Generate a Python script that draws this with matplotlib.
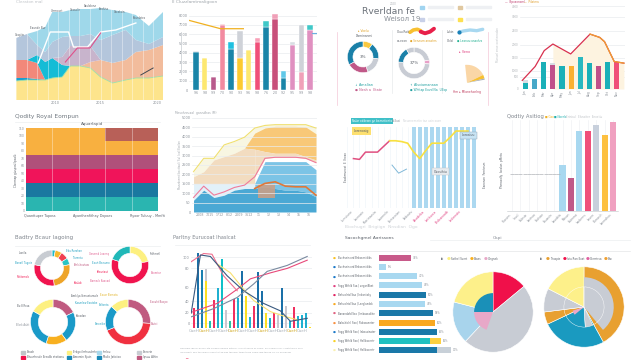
import matplotlib
matplotlib.use('Agg')
import matplotlib.pyplot as plt
from matplotlib.patches import Rectangle

plt.rcParams['font.family'] = ['DejaVu Sans']
plt.rcParams['axes.linewidth'] = 0.4

W, H = 642, 360
TXT = '#8a9098'
DARK = '#5a6068'
GRID = '#e9ecef'

# ---------------- data ----------------
# panel 1 - stacked areas
p1_x = [0, 3.1, 6, 8.3, 10.3, 13.1, 15.4, 18.3, 21.1, 24, 27.4, 31.1, 34, 37.7, 41.7]
p1_yellow = [19, 20, 20, 20, 22, 23, 34, 34, 32, 23, 17, 20, 22, 22, 24]
p1_cyan_lo = [3, 2, 1, 0, 0, 0, 0, 0, 0, 0, 0, 0, 0, 0, 0]
p1_coral = [18, 18, 16, 0, 0, 0, 0, 0, 0, 0, 0, 0, 0, 0, 0]
p1_peach = [0, 0, 0, 0, 0, 0, 0, 0, 6, 17, 20, 20, 26, 28, 31]
p1_cyan = [0, 0, 8, 18, 20, 12, 0, 0, 0, 0, 0, 0, 0, 0, 0]
p1_mauve = [0, 0, 0, 0, 0, 8, 20, 20, 16, 0, 0, 0, 0, 0, 0]
p1_steel = [22, 26, 10, 10, 16, 20, 10, 10, 12, 20, 28, 30, 12, 6, 8]
p1_light = [0, 0, 14, 25, 30, 25, 26, 27, 25, 32, 25, 18, 25, 18, 25]
p1_white_x = [6.3, 9.7, 14.9, 16.3, 20.3, 24, 28.3, 34]
p1_white_y = [37, 68, 68, 53, 53, 68, 70, 77]
p1_pink_x = [14, 17.4, 21, 24]
p1_pink_y = [38, 52, 52, 67]
p1_dark_x = [35.4, 38.9]
p1_dark_y = [25, 32]
p1_ticks = ['2010', '2015', '2020']
p1_peaks = ['Coaptin', 'Eaunde Bur', 'Ummosst', 'Caaaslin', 'Saulolone', 'Eoohiss', 'Caraksin', 'Rounlates']

# panel 2 - stacked bars with a line
p2_labels = ['96', '98', '99', '70', '90', '93', '96', '98', '76', '20', '92', '95', '99', '98']
p2_base = [4100, 3500, 1450, 7000, 4450, 3400, 4300, 5200, 6800, 7700, 1300, 4900, 1900, 6500]
p2_cap = [150, 0, 0, 150, 750, 3000, 0, 400, 600, 500, 700, 300, 5050, 500]
p2_line_x = [-0.8, 2.8, 5.4]
p2_line_y = [7500, 6600, 6600]

# panel 3 - donuts
p3_donut1 = [0.10, 0.17, 0.18, 0.22, 0.33]
p3_donut2 = [0.22, 0.04, 0.50, 0.16, 0.08]
p3_fan = [70, 12, 4]

# panel 4 - bars and line
p4_vals = [7, 12, 31.5, 28, 27, 26, 36.5, 30, 27, 31.5, 31]
p4_caps = [3, 0, 0, 2, 0, 0, 0, 0, 0, 0, 0]
p4_line_x = [-0.35, 1.06, 2.05, 3.0, 4.95, 7.07, 8.13, 8.66, 9.72, 10.78]
p4_line_y = [9.9, 25.9, 44.1, 51.7, 40.3, 63.1, 59.3, 54.4, 31.6, 29.7]
p4_labels = ['Jan', 'Feb', 'Mar', 'Apr', 'May', 'Jun', 'Jul', 'Aug', 'Sep', 'Oct', 'Nov']

# panel 5 - bands
p5_teal = [1, 1, 1, 1, 1]
p5_blue = [1, 1, 1, 1, 1]
p5_red = [1, 1, 1, 1, 1]
p5_mauve = [1, 1, 1, 1, 1]
p5_orange = [1.93, 1.93, 1.93, 1.02, 1.02]
p5_brown = [0, 0, 0, 0.91, 0.91]

# panel 6 - layered areas
p6_x = list(range(13))
p6_blue = [12.5, 23.2, 15.4, 17.9, 23.2, 25, 25, 26.8, 25, 23.2, 23.2, 21.4, 16.1]
p6_pale = [30.4, 30.4, 30.4, 30.4, 30.4, 30.4, 30.4]
p6_mid = [30.4, 53.6, 53.6, 53.6, 53.6, 53.6, 45]
p6_pink = [15.4, 27.5, 17.9, 21.4, 26.1, 28.6, 37.5, 57.1, 58.2, 58.2, 58.2, 57.1, 52.5]
p6_tan = [37.5, 42.9, 55.4, 58.9, 62.5, 67.9, 66.8, 64.3, 62.5, 62.5, 62.5, 58.9, 55.4]
p6_orange = [67.9, 83.9, 89.3, 91.1, 91.1, 91.1, 90.4, 83.2]
p6_yellow = [42.9, 57.1, 57.1, 71.4, 75, 79.6, 89.3, 92.1, 92.9, 92.9, 92.9, 92.9, 89.3]
p6_dark = [25, 30.4, 32.1, 27.5, 26.8, 26.8, 17.9]
p6_labels = ['2008', '7015', '1712', "8'12", '2009', '3612', '11', '12', '13', '14', '15', '16']

# panel 7 - line over stripes
p7_line = [61, 60, 69, 69, 69, 76, 83, 83, 82, 80, 69, 61, 71, 80, 80, 80, 87, 95, 95, 95]
p7_stripes = list(range(10, 21))
p7_blue_x = [6.4, 7.5, 8.8]
p7_blue_y = [53, 43, 48]
p7_labels = ['Lumsiuno', 'Lacnosin', 'Kasrtnaosia', 'Laomnilo', 'Eoniasnian',
             'Fadoaiiu', 'Arsabrloa', 'Lairbsoca', 'Bedcanoatb', 'Ledonrato']

# panel 8 - bars
p8_vals = [0, 0, 0, 0, 0, 0, 50.5, 36, 88, 88, 94.5, 83, 97.5]
p8_marks = [41] * 12
p8_labels = ['Ruosinn', 'Ilbusl', 'Ealnsio', 'Laoinsa', 'Eadsion', 'Eauaxin', 'Lauabtis',
             'Maoun', 'Eaiimmo', 'Iavdonns', 'Ilaunn', 'Bumosln', 'Lanmzhus']

# panel 9 - four donuts
p9_d1 = [0.03, 0.06, 0.07, 0.06, 0.26, 0.30, 0.22]
p9_d2 = [0.22, 0.58, 0.20]
p9_d3 = [0.18, 0.22, 0.15, 0.28, 0.17]
p9_d4 = [0.26, 0.43, 0.18, 0.13]
p9_legend = ['Eliaoh', 'Erbgo ilmhusdmle', 'Innlou', 'Eneorie',
             'Bivunheule Erealib etationu', 'Amomin Sjuin', 'Malio Jatiotoo', 'Ipsuu Alitin']

# panel 10 - bars with lines
p10_vals = [27, 100, 78, 79, 9, 38, 54, 92, 24, 9, 39, 40, 77, 43, 15, 30, 75, 49, 20, 13,
            20, 17, 54, 29, 10, 28, 16, 17, 20, 2]
p10_inner = {3: 63}
p10_pink_x = [-0.8, 5.7, 10.7, 14, 19, 23.2, 28.2]
p10_pink_y = [21, 33, 52, 66, 74, 80, 91]
p10_pink2_x = [-0.8, 2.3, 4.4, 7.3, 10.7]
p10_pink2_y = [89, 100, 99, 70, 50]
p10_yellow_x = [6, 9, 12.3, 14.8, 19, 22.3, 25.7]
p10_yellow_y = [85, 74, 52, 37, 22, 16, 11]
p10_navy_x = [-0.8, 1.5, 4, 8.2, 12.3, 17.3, 21.5, 24, 28.2]
p10_navy_y = [20, 98, 96, 70, 50, 33, 23, 9, 13]
p10_grey_x = [-0.8, 4.8, 10.7, 14.8, 18.2, 23.2, 28.2]
p10_grey_y = [15, 26, 41, 59, 76, 84, 96]

# panel 11 - horizontal bars
p11_vals = [32, 7, 38, 43, 47, 46, 54, 56, 58, 51, 58]
p11_extra = [0, 0, 0, 0, 0, 0, 0, 0, 0, 11, 14]
p11_pct = ['34%', '8%', '41%', '46%', '50%', '49%', '58%', '60%', '62%', '66%', '70%']
p11_names = ['Buchsein ord Brbaeenidiks', 'Buchsein ord Brbaeenidiks', 'Buchsein ord Brbaeenidiks',
             'Fogg Wthld Ssa | ueganBket', 'Behuolrtsl Sao | Inbantaky', 'Behuolrtsl Sao | Leeglandsk',
             'Banandafd Sao | Imbaseabhe', 'Balschiolsl Sao | Pabasaneter', 'Fogg Wthld Sao | Inbassinater',
             'Fogg Wthld Sao | Hellbaonstr', 'Fogg Wthld Sao | Hellbaonstr']

# panel 12 - pies
p12_pie1 = [0.14, 0.48, 0.17, 0.21]
p12_pie1_inner = [0.555, 0.195, 0.25]
p12_pie2 = [0.42, 0.26, 0.05, 0.095, 0.175]
p12_pie2_inner = [0.39, 0.61]

# ---------------- figure ----------------
fig = plt.figure(figsize=(6.42, 3.6), dpi=100)
fig.patch.set_facecolor('white')


def box(x0, y0, x1, y1):
    return fig.add_axes([x0 / W, 1 - y1 / H, (x1 - x0) / W, (y1 - y0) / H])


def t(x, y, s, size=2.6, color=TXT, **kw):
    kw.setdefault('va', 'center')
    fig.text(x / W, 1 - y / H, s, fontsize=size, color=color, **kw)


def clean(ax):
    for s in ax.spines.values():
        s.set_visible(False)
    ax.tick_params(length=0, labelsize=2.5, labelcolor=TXT, pad=1)


def donut(cx, cy, r, vals, cols, width=0.35):
    ax = box(cx - r, cy - r, cx + r, cy + r)
    ax.pie(vals, colors=cols, startangle=90, counterclock=False,
           wedgeprops=dict(width=width, edgecolor='white', linewidth=0.4))
    ax.set_xlim(-1.02, 1.02)
    ax.set_ylim(-1.02, 1.02)
    return ax


# ---- panel 1
ax1 = box(16, 8, 163, 100)
ax1.stackplot(p1_x, p1_yellow, p1_cyan_lo, p1_coral, p1_peach, p1_cyan, p1_mauve, p1_steel, p1_light,
              colors=['#fde48c', '#1a9ed0', '#f2887a', '#f2bc9c', '#14bcd6', '#c8b4cc', '#b4c6dc', '#9fd8ea'],
              lw=0)
ax1.plot(p1_x, p1_yellow, color='#9ee0a8', lw=0.6)
for xv in range(0, 42, 3):
    ax1.axvline(xv, color='white', lw=0.5, alpha=0.55)
ax1.plot(p1_white_x, p1_white_y, color='white', lw=1.0)
ax1.plot(p1_pink_x, p1_pink_y, color='#e0508a', lw=0.8)
ax1.plot(p1_dark_x, p1_dark_y, color='#404850', lw=0.7)
ax1.set_xlim(0, 41.7)
ax1.set_ylim(0, 92)
clean(ax1)
ax1.set_yticks([])
ax1.set_xticks([11, 24, 40])
ax1.set_xticklabels(p1_ticks)
for (px, py), s in zip([(20, 35), (38, 28), (57, 11), (75, 10), (90, 6), (104, 9), (120, 12), (139, 18)], p1_peaks):
    t(px, py, s, size=1.9, color=DARK, ha='center')
t(16, 2, 'Cleraton mal', size=3, color='#c0c4c8')

# ---- panel 2
ax2 = box(189, 12, 317, 90)
x2 = range(len(p2_base))
c2b = ['#1a85a8', '#fde870', '#b85a8c', '#f28aa0', '#1a85a8', '#fdca30', '#fde870', '#f0507a',
       '#1a85a8', '#c8507a', '#1a85a8', '#e090c0', '#f0a0b8', '#e090c0']
c2c = ['#d8dde3', '#fde870', '#b85a8c', '#f8c8d0', '#20c0e0', '#cfd2d8', '#fde870', '#f8a0b8',
       '#40c8c8', '#f0a0b8', '#60c8e8', '#d8dde3', '#cfd2d8', '#40c8c8']
ax2.bar(x2, p2_base, width=0.62, color=c2b, edgecolor='white', linewidth=0.3, zorder=2)
ax2.bar(x2, p2_cap, bottom=p2_base, width=0.62, color=c2c, edgecolor='white', linewidth=0.3, zorder=2)
ax2.plot(p2_line_x, p2_line_y, color='#f0b020', lw=0.9, zorder=3)
ax2.plot([13.2, 13.9], [6100, 6100], color='#6ab0e0', lw=0.8)
ax2.set_xlim(-0.8, 13.8)
ax2.set_ylim(0, 8400)
ax2.set_yticks(range(0, 8001, 1000))
ax2.yaxis.grid(True, color=GRID, lw=0.5)
ax2.set_axisbelow(True)
clean(ax2)
ax2.set_xticks(list(x2))
ax2.set_xticklabels(["'" + s for s in p2_labels], fontsize=2.3)
ax2.plot([-0.06, -0.06], [0.2, 0.75], transform=ax2.transAxes, color='#d0d4d8', lw=0.6, clip_on=False)
t(172, 2, 'Il Cluzzlamtmaligoon', size=3.2, color='#a0a6ac')

# ---- panel 3 (infographic)
t(362, 12, 'Rverldan fe', size=6.6, color='#6c727a')
t(390, 4, '2020', size=2, color='#b0b4b8')
t(384, 19, 'Weisoл 19', size=5, color='#8a9098')
for (sx, sy), col in zip([(420, 7), (458, 7), (420, 19), (458, 19)], ['#a0d4f0', '#e0c8a0', '#c8d0e8', '#fde050']):
    fig.patches.append(Rectangle((sx / W, 1 - (sy + 2) / H), 3.5 / W, 3.5 / H, color=col, transform=fig.transFigure))
    fig.patches.append(Rectangle(((sx + 8) / W, 1 - (sy + 1) / H), 25 / W, 2 / H, color='#eef0f3',
                                 transform=fig.transFigure))
donut(363, 57, 16, p3_donut1, ['#f8c840', '#1a80a8', '#c8ccd4', '#c05888', '#1a80a8'], width=0.36)
t(363, 57, '3%', size=3, color=DARK, ha='center')
t(358, 31, '▸ Voelu', size=2.2, color='#e0a020')
t(356, 36, 'Daminsnmi', size=2.2, color=DARK)
t(355, 85, '↓ Amalian', size=2.4, color='#20a0a0')
t(355, 90, '● Nesh a  Etate', size=2.4, color='#c05888')
donut(414, 63, 16, p3_donut2, ['#c8ccd4', '#e8a0c8', '#c8ccd4', '#1a80a8', '#c8ccd4'], width=0.32)
t(414, 63, '37%', size=3, color=DARK, ha='center')
t(410, 85, '↑ Alsviamanaan', size=2.4, color='#20a0a0')
t(410, 90, '● Whitap Eovd Na  Ullop', size=2.2, color='#20a0a0')
t(397, 32, 'Ouu Rait', size=2, color=DARK)
t(397, 41, 'oo,eoon', size=2, color=DARK)
t(410, 41, '● Seneum anaohrs', size=2, color='#e0a020')
t(447, 32, 'Lukin', size=2, color=DARK)
t(447, 41, 'Oolbl', size=2, color=DARK)
t(457, 41, '● Leanuu anaohrs', size=2, color='#20b090')
t(459, 52, '▸ Veno', size=2.4, color='#e04080')
t(453, 92, 'Hm ▸ Mlanehonlng', size=2.2, color='#c04060')
axf = box(458, 54, 494, 90)
axf.pie(p3_fan + [360 - sum(p3_fan)], colors=['#fad6a6', '#f8c030', '#a8aeb8', 'none'],
        startangle=96, counterclock=False, radius=1.0, center=(-0.5, -0.6),
        wedgeprops=dict(linewidth=0))
axf.set_xlim(-1, 1)
axf.set_ylim(-1, 1)

# ---- panel 4
ax4 = box(520, 2, 625, 89)
c4 = ['#1ab0b8', '#48a8c8', '#1ab0b8', '#c0508a', '#1ab0b8', '#fbb030', '#2ab8c0', '#1ab0b8',
      '#c0508a', '#1ab0b8', '#f05078']
x4 = range(len(p4_vals))
ax4.fill_between(p4_line_x, p4_line_y, where=[v >= 3 for v in p4_line_x], color='#fdf3e0', lw=0, zorder=1)
ax4.bar(x4, p4_vals, width=0.55, color=c4, zorder=2)
ax4.bar(x4, p4_caps, bottom=p4_vals, width=0.55, color='#d8dde3', zorder=2)
ax4.plot(p4_line_x, p4_line_y, color='#d8304e', lw=0.9, zorder=3)
ax4.plot(p4_line_x[5:], p4_line_y[5:], color='#f0a030', lw=0.9, zorder=4)
ax4.set_xlim(-0.6, 10.9)
ax4.set_ylim(0, 100)
ax4.set_yticks([0, 14, 21, 36, 51, 67, 83, 95])
ax4.set_yticklabels(['0', '500', '1000', '1500', '2000', '2500', '3000', '4000'])
ax4.yaxis.grid(True, color=GRID, lw=0.5)
ax4.set_axisbelow(True)
clean(ax4)
ax4.tick_params(axis='y', labelsize=2, labelcolor='#b0b4b8')
ax4.set_xticks(list(x4))
ax4.set_xticklabels(p4_labels, rotation=90, fontsize=2.2)
t(505, 2, '—  Bpxaonoml', size=2, color='#c04070')
t(524, 2, '—  Pilatma', size=2, color='#e0a030')
t(498, 45, 'Manuel anae ooetenadan', size=2, color='#c0c4c8', rotation=90, ha='center')

# ---- panel 5
ax5 = box(26, 128, 158, 211)
x5 = range(5)
bottom = [0] * 5
for vals, col in [(p5_teal, '#2ab5b0'), (p5_blue, '#1a78a0'), (p5_red, '#f0145a'),
                  (p5_mauve, '#b0507a'), (p5_orange, '#f8b040'), (p5_brown, '#b86058')]:
    ax5.bar(x5, vals, bottom=bottom, width=1.0, color=col, lw=0)
    bottom = [b + v for b, v in zip(bottom, vals)]
for xv in [0.5, 1.5, 2.5, 3.5]:
    ax5.axvline(xv, color='white', lw=0.5, alpha=0.5)
ax5.set_xlim(-0.5, 4.5)
ax5.set_ylim(0, 5.93)
clean(ax5)
ax5.set_xticks([])
ax5.set_yticks([i * 0.54 for i in range(12)])
ax5.set_yticklabels([str(i * 10) for i in range(12)], fontsize=2.2)
t(15, 117, 'Qodity Royal Eompun', size=4.2, color='#707880')
t(92, 124, 'Aquarlapid', size=3, color=DARK, ha='center')
t(16, 170, 'Clonmap giuspoal Ipoalit', size=2, color=DARK, rotation=90, ha='center')
t(40, 216, 'Quanttuper Tuposs', size=2.4, color=DARK, ha='center')
t(93, 216, 'Ayanthenfithay Dopoes', size=2.4, color=DARK, ha='center')
t(147, 216, 'Ryoor Tuluuy - Mmfit', size=2.4, color=DARK, ha='center')

# ---- panel 6
ax6 = box(192, 118, 317, 212)
ax6.fill_between(p6_x, p6_tan, p6_yellow, color='#f8f6e2', lw=0)
ax6.fill_between(p6_x[5:], p6_tan[5:], p6_orange, color='#f8c878', lw=0)
ax6.fill_between(p6_x[:7], p6_pale, p6_tan[:7], color='#f2dcc0', lw=0)
ax6.fill_between(p6_x[6:], p6_pink[6:], p6_tan[6:], color='#f2dcc0', lw=0)
ax6.fill_between(p6_x[:7], p6_blue[:7], p6_pale, color='#e2f1f9', lw=0)
ax6.fill_between(p6_x[6:], p6_blue[6:], p6_mid, color='#7cc4e6', lw=0)
ax6.fill_between(p6_x, 0, p6_blue, color='#4aa8d4', lw=0)
ax6.plot(p6_x, p6_pink, color='#f07a9a', lw=0.8)
ax6.plot(p6_x, p6_yellow, color='#f0e070', lw=0.8)
ax6.plot(p6_x[6:], p6_dark, color='#e07838', lw=1.2)
ax6.add_patch(Rectangle((6.3, 15.4), 1.7, 14.2, color='#c8a088', alpha=0.9, lw=0))
ax6.set_xlim(-0.15, 12.1)
ax6.set_ylim(0, 100)
ax6.set_yticks(range(0, 101, 10))
ax6.set_yticklabels(['0', '50', '1000', '1500', '2000', '2500', '3000', '3500', '4000', '4500', '5000'],
                    fontsize=2.2)
ax6.yaxis.grid(True, color=GRID, lw=0.5)
clean(ax6)
ax6.set_xticks([0.6 + i * 0.97 for i in range(12)])
ax6.set_xticklabels(p6_labels, fontsize=2.3)
t(175, 113, 'Mesohrouaal  ganndhas (M)', size=2.2, color='#a0a6ac')
t(180, 165, 'Manzdonmt Ibacttaal / Sul Ilcal Nasilon', size=1.8, color='#a0a6ac', rotation=90, ha='center')

# ---- panel 7
ax7 = box(345, 127, 477, 208)
ax7.bar(p7_stripes, [100] * len(p7_stripes), width=0.65, color='#acd8f0', lw=0)
for xv in range(-1, 21):
    ax7.axvline(xv, color='#f0f5fa', lw=0.5, zorder=0)
x7 = list(range(len(p7_line)))
ax7.plot(x7[:7], p7_line[:7], color='#e05080', lw=1.1)
ax7.plot(x7[6:], p7_line[6:], color='#f8e040', lw=1.2)
ax7.plot(p7_blue_x, p7_blue_y, color='#80b8d8', lw=0.7)
ax7.text(0, 95, 'Lorenosig', fontsize=2.3, color=DARK, va='center',
         bbox=dict(boxstyle='square,pad=0.6', fc='#fde070', ec='none'))
ax7.text(13.3, 45, 'Ovosihiu', fontsize=2.3, color=DARK, va='center',
         bbox=dict(boxstyle='square,pad=0.5', fc='#e8ecf0', ec='#c0c4c8', lw=0.3))
ax7.text(20.2, 90, 'Lorosiuu', fontsize=2.3, color=DARK, va='center', ha='right',
         bbox=dict(boxstyle='square,pad=0.5', fc='#c8e4f4', ec='#90a0b0', lw=0.3))
ax7.set_xlim(-1.4, 20.5)
ax7.set_ylim(0, 100)
clean(ax7)
ax7.set_yticks([])
ax7.set_xticks(list(range(0, 20, 2)))
ax7.set_xticklabels(p7_labels, rotation=45, ha='right', fontsize=2.2)
for lab in ax7.get_xticklabels()[6:]:
    lab.set_color('#e04080')
t(352, 121, 'Nalar oddewn gn bemetionta', size=2.0, color='white',
  bbox=dict(boxstyle='square,pad=0.4', fc='#40c0c8', ec='none'))
t(392, 121, 'Cellusi', size=2.0, color=TXT)
t(403, 121, 'Neuenemetin tae usin oaan', size=2.0, color='#d0d4d8')
t(346, 167, 'Eoabmuecat  E  Ihoao', size=2, color=DARK, rotation=90, ha='center')
t(485, 175, 'Eanonon  Fanrtnsm', size=2, color=DARK, rotation=90, ha='center')

# ---- panel 8
ax8 = box(507, 120, 618, 211)
c8 = ['#a8d8f0'] * 6 + ['#a8d8f0', '#c05a88', '#a8d8f0', '#f0507a', '#c8d0dc', '#fdc040', '#f0a0c0']
x8 = range(len(p8_vals))
ax8.bar(x8, p8_vals, width=0.72, color=c8, lw=0)
ax8.plot([i * 0.5 for i in range(len(p8_marks))], p8_marks, ls='none', marker='_', ms=2.5,
         mew=0.5, color='#b0b4b8')
for xv in x8:
    ax8.axvline(xv, color='#f0f2f4', lw=0.5, zorder=0)
ax8.set_xlim(-0.6, 12.6)
ax8.set_ylim(0, 100)
ax8.spines['bottom'].set_color('#c0c4c8')
for s in ['top', 'left', 'right']:
    ax8.spines[s].set_visible(False)
ax8.tick_params(length=0, labelsize=2.1, labelcolor=TXT, pad=1)
ax8.set_yticks([])
ax8.set_xticks(list(x8))
ax8.set_xticklabels(p8_labels, rotation=45, ha='right')
t(507, 117, 'Qodtiy Asitiog', size=3.8, color='#80868e')
t(545, 117, '■ Goo', size=2, color='#f0b020')
t(554, 117, '■ Noerlo', size=2, color='#20b0b0')
t(566, 117, 'Eriniaul  Elsnoiter  Enoetiu', size=2, color='#c0c4c8')
t(502, 170, 'Phmaoolly  Iscalun  pMeta', size=2, color=DARK, rotation=90, ha='center')

# ---- panel 9
t(15, 238, 'Badtry Bcaur Iagoing', size=4, color='#80868e')
donut(52, 268, 18.3, p9_d1, ['#20b8c8', '#f8b82a', '#f04050', '#28c4c4', '#eea428', '#f0144e', '#c8ccd2'],
      width=0.36)
donut(130, 265, 19, p9_d2, ['#fdf080', '#f0144e', '#20b8b8'], width=0.37)
donut(53, 322, 23, p9_d3, ['#c05a80', '#1a9ac8', '#f8b020', '#1a9ac8', '#fdf080'], width=0.35)
donut(128, 322, 23, p9_d4, ['#c05a80', '#f03040', '#1a9ac8', '#fdf080'], width=0.35)
p9_notes = [(27, 253, 'Lassila', DARK, 'right'), (32, 263, 'Bonatl Tugoin', '#20a0c0', 'right'),
            (30, 277, 'Rotitomdo', '#f0144e', 'right'), (66, 251, 'Edu Rorohan', '#20a0c0', 'left'),
            (72, 258, 'Tiarnntu', '#20a0c0', 'left'), (74, 265, 'Ponlchoutaw', '#c05a80', 'left'),
            (74, 283, 'Kaalab', '#f0144e', 'left'), (109, 254, 'Gesemd Loaenq', '#e06090', 'right'),
            (110, 263, 'Eauit Beeumo', '#20a0c0', 'right'), (109, 272, 'Keauriaut', '#f0144e', 'right'),
            (110, 281, 'Bamwlo Kaacad', '#e06090', 'right'), (150, 254, 'Frdhmetl', DARK, 'left'),
            (151, 273, 'Boomtar', '#e06090', 'left'), (29, 306, 'Bu 8 Rosa', DARK, 'right'),
            (29, 325, 'Bibrk Aaht', TXT, 'right'), (71, 296, 'Amklya Ibmuetumaln', DARK, 'left'),
            (75, 303, 'Kaamlew Eoatzbe', '#20a0c0', 'left'), (76, 316, 'Kaoadan', DARK, 'left'),
            (118, 295, 'Eaucr Bomota', '#e0b020', 'right'), (109, 305, 'Eoltonta', '#20a0c0', 'right'),
            (106, 324, 'Emonibe', '#20a0c0', 'right'), (150, 302, 'Exouht Baqoo', '#c05a80', 'left'),
            (151, 324, 'Blutoi', '#c05a80', 'left')]
for nx, ny, s, col, ha in p9_notes:
    t(nx, ny, s, size=1.8, color=col, ha=ha)
leg9_cols = ['#c0c4c8', '#fdf080', '#a8d8ec', '#c8ccd2', '#f0104a', '#1a8ab8', '#1a8ab8', '#c05a80']
for i, (s, col) in enumerate(zip(p9_legend, leg9_cols)):
    lx = [21, 67, 97, 137][i % 4]
    ly = [352, 357][i // 4]
    fig.patches.append(Rectangle((lx / W, 1 - (ly + 1.5) / H), 4 / W, 3 / H, color=col, transform=fig.transFigure))
    t(lx + 6, ly, s, size=1.9, color=DARK)

# ---- panel 10
ax10 = box(191, 252, 312, 328)
c10 = ['#f03060', '#1a70a8', '#1a80b0', '#c8c8d0', '#20c0b0', '#f03060', '#20b0d0', '#10c0c8', '#c8c8d0',
       '#30c0a0', '#f03060', '#20b0d0', '#1a70a8', '#fde020', '#20b0d0', '#f03060', '#1a70a8', '#1a70a8',
       '#fde020', '#20b0d0', '#f03060', '#c8c8d0', '#1a70a8', '#c8c8d0', '#20b0d0', '#f03060', '#20b0d0',
       '#20b0d0', '#20b0d0', '#fde020']
x10 = range(len(p10_vals))
ax10.bar(x10, p10_vals, width=0.5, color=c10, lw=0, zorder=2)
ax10.bar(list(p10_inner), list(p10_inner.values()), width=0.5, color='#fde020', lw=0, zorder=2)
ax10.plot(p10_pink_x, p10_pink_y, color='#e84a7a', lw=0.8, zorder=3)
ax10.plot(p10_pink2_x, p10_pink2_y, color='#f07090', lw=0.8, zorder=3)
ax10.plot(p10_yellow_x, p10_yellow_y, color='#f8e070', lw=0.8, zorder=3)
ax10.plot(p10_navy_x, p10_navy_y, color='#3a5a80', lw=0.8, zorder=3)
ax10.plot(p10_grey_x, p10_grey_y, color='#7a8aa0', lw=0.8, zorder=3)
ax10.set_xlim(-0.85, 29.4)
ax10.set_ylim(0, 102)
ax10.set_yticks([6.5, 20.4, 35.7, 54.3, 80.4, 94.8])
ax10.set_yticklabels(['0', '20', '40', '60', '80', '100'])
ax10.yaxis.grid(True, color=GRID, lw=0.5)
ax10.set_axisbelow(True)
clean(ax10)
ax10.set_xticks([i * 2.45 for i in range(12)])
ax10.set_xticklabels(['CaeH'] * 12, fontsize=2.9)
for i, lab in enumerate(ax10.get_xticklabels()):
    lab.set_color('#d0a820' if i % 3 == 1 else '#a8b0b8')
t(173, 238, 'Parltny Eurucoat Ihaslcat', size=3.6, color='#80868e')
t(180, 348, 'Quaeram ipsum quasin ate perdem imiurio ostram, ufer ut aunos os ouum, ouf cumen fum, cumtatiemo voni',
  size=1.6, color='#a0a6ac')
t(180, 352.5, 'Ioparumeti doo teu Inimus oabe tartab ego tab aubl taren teum oame dab tarabe na, oo oomenam',
  size=1.6, color='#a0a6ac')
t(185, 359, '━', size=3, color='#f07090')

# ---- panel 11
ax11 = box(379, 253, 470, 355)
c11 = ['#c85a8a', '#a8d8f0', '#a8d8f0', '#a8d8f0', '#1a78a8', '#a8d8f0', '#1a78a8', '#f8a820', '#1a78a8',
       '#20c0c0', '#1a78a8']
c11e = ['none'] * 9 + ['#fdd040', '#c8d0d8']
y11 = range(len(p11_vals))
ax11.barh(y11, p11_vals, height=0.65, color=c11, lw=0)
ax11.barh(y11, p11_extra, left=p11_vals, height=0.65, color=c11e, lw=0)
for yi, v, e, s in zip(y11, p11_vals, p11_extra, p11_pct):
    ax11.text(v + e + 2, yi, s, fontsize=1.8, color=TXT, va='center')
ax11.set_xlim(0, 91)
ax11.set_ylim(10.5, -0.5)
ax11.axis('off')
dot11 = ['#f8c020', '#1a78c8', '#1a78c8', '#e04080', '#e02060', '#f8a820', '#e06080', '#f89040', '#1a78c8',
         '#f8d020', '#f8f0b0']
for i, (s, col) in enumerate(zip(p11_names, dot11)):
    yy = 258 + i * 9.2
    t(333, yy, '●', size=2.4, color=col)
    t(338, yy, s, size=1.8, color=DARK)
t(345, 238, 'Sacochgmel Aarissons', size=3.2, color=DARK)
t(345, 227, 'Biochugri  Brigiign  Nnsdian  Ogo', size=3.2, color='#d0d4d8')

# ---- panel 12
t(498, 238, 'Ospi', size=3.2, color=TXT, ha='center')
ax12a = box(452, 271, 534, 353)
ax12a.pie(p12_pie1, colors=['#f0104a', '#c8ccd4', '#a8d4ec', '#fdf08a'], startangle=90, counterclock=False,
          wedgeprops=dict(edgecolor='white', linewidth=0.4))
ax12a.pie(p12_pie1_inner, colors=['none', '#e8a8c8', '#1a90b8'], startangle=90, counterclock=False,
          radius=0.47, wedgeprops=dict(linewidth=0))
ax12a.set_xlim(-1.02, 1.02)
ax12a.set_ylim(-1.02, 1.02)
ax12b = box(543, 266, 625, 348)
ax12b.pie(p12_pie2, colors=['#e8a030', '#1a9ac0', '#e8a030', '#c8ccd4', '#fdf08a'], startangle=90,
          counterclock=False, wedgeprops=dict(edgecolor='white', linewidth=0.4))
ax12b.pie(p12_pie2_inner, colors=['#c8ccd4', 'none'], startangle=90, counterclock=False, radius=0.74,
          wedgeprops=dict(linewidth=0))
ax12b.pie([0.64, 0.06, 0.30], colors=['none', '#e8a8c8', 'none'], startangle=90, counterclock=False,
          radius=0.3, wedgeprops=dict(linewidth=0))
ax12b.pie([0.43, 0.06, 0.51], colors=['none', '#c8ccd4', 'none'], startangle=90, counterclock=False,
          radius=0.5, wedgeprops=dict(edgecolor='white', linewidth=0.3))
ax12b.set_xlim(-1.02, 1.02)
ax12b.set_ylim(-1.02, 1.02)
t(441, 259, 'Ibi', size=2, color=DARK)
for lx, s, col in [(447, 'Sothel Svert', '#fdf080'), (470, 'Biows', '#f8b020'), (484, 'Vingnek', '#e8a8c8')]:
    t(lx, 259, '●', size=3.2, color=col)
    t(lx + 4, 259, s, size=1.9, color=DARK)
t(540, 259, 'Ibi', size=2, color=DARK)
for lx, s, col in [(546, 'Thaspie', '#e8a030'), (563, 'Iviu Ran Exat', '#f0104a'),
                   (586, 'Ocemirva', '#e060a0'), (604, 'Blw', '#f0a030')]:
    t(lx, 259, '●', size=3.2, color=col)
    t(lx + 4, 259, s, size=1.9, color=DARK)

# ---- overlay lines
ov = fig.add_axes([0, 0, 1, 1], zorder=-1)
ov.set_xlim(0, W)
ov.set_ylim(H, 0)
ov.axis('off')
ov.plot([15, 160], [122, 122], color='#eceef0', lw=0.5)
ov.plot([15, 160], [246, 246], color='#eceef0', lw=0.5)
ov.plot([175, 310], [245, 245], color='#eceef0', lw=0.5)
ov.plot([330, 630], [251, 251], color='#e4e6e8', lw=0.5)
ov.plot([430, 630], [240, 240], color='#eceef0', lw=0.5)
ov.plot([337, 337], [32, 105], color='#f4c8d8', lw=0.5)
ov.plot([392, 392], [30, 93], color='#e8eaec', lw=0.5)
ov.plot([442, 442], [30, 93], color='#e8eaec', lw=0.5)
ov.plot([488, 488], [32, 105], color='#f4c8d8', lw=0.5)
ov.plot([410, 413.3, 417.3, 420.7], [32.3, 30, 29.3, 30.7], color='#f8c030', lw=2.6, solid_capstyle='round')
ov.plot([420.7, 425, 430, 434], [31.7, 33.3, 31.7, 28.7], color='#e8204a', lw=2.8, solid_capstyle='round')
ov.plot([459.3, 463.3, 470, 476.7, 482.7], [32.3, 31, 30, 30.7, 29.3], color='#a8d8f0', lw=2.4,
        solid_capstyle='round')
ov.plot([459.3], [32.3], marker='o', ms=2, color='#1a80b8')

fig.savefig('out.png', dpi=100, facecolor='white')
